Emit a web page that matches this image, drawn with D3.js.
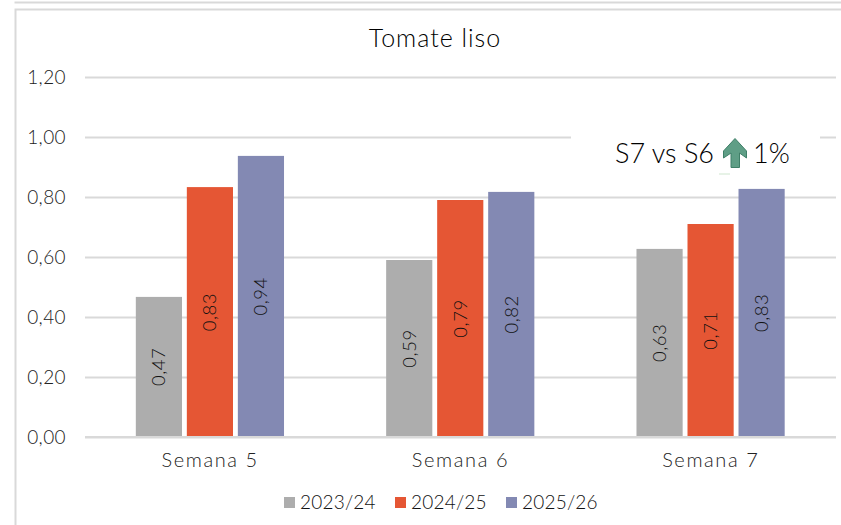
<!DOCTYPE html>
<meta charset="utf-8">
<style>
  body { margin: 0; background: #fff; }
  svg { display: block; font-family: "Lato", sans-serif; font-weight: 300; }
</style>
<script src="https://d3js.org/d3.v7.min.js"></script>
<div id="screen"></div>
<script>
  var categories = ["Semana 5", "Semana 6", "Semana 7"];
  var seasons = ["2023/24", "2024/25", "2025/26"];
  var colors = ["#adadad", "#e55634", "#8389b3"];
  var values2324 = [0.467, 0.59, 0.627];
  var values2425 = [0.833, 0.79, 0.71];
  var values2526 = [0.937, 0.817, 0.827];
  var labels2324 = ["0,47", "0,59", "0,63"];
  var labels2425 = ["0,83", "0,79", "0,71"];
  var labels2526 = ["0,94", "0,82", "0,83"];
  var yTicks = [0, 0.2, 0.4, 0.6, 0.8, 1.0, 1.2];

  var seriesValues = [values2324, values2425, values2526];
  var seriesLabels = [labels2324, labels2425, labels2526];

  var width = 841, height = 525;
  var margin = {top: 77, right: 5, bottom: 88, left: 85};

  var svg = d3.select("#screen").append("svg")
      .attr("width", width)
      .attr("height", height);

  // frame of the pasted slide
  svg.append("path")
      .attr("d", "M14.5,2.5H841M15.5,525V9.5H841")
      .attr("fill", "none")
      .attr("stroke", "#d9d9d9")
      .attr("stroke-width", 2);

  var x0 = d3.scaleBand().domain(categories).range([margin.left, width - margin.right]);
  var x1 = d3.scaleBand().domain(seasons).range([x0.bandwidth() * 0.203, x0.bandwidth() * 0.795]).paddingInner(0.095);
  var y = d3.scaleLinear().domain([0, 1.2]).range([height - margin.bottom, margin.top]);

  var fmt = function(d) { return d.toFixed(2).replace(".", ","); };

  // y axis with gridlines
  var yAxis = svg.append("g")
      .attr("transform", "translate(" + margin.left + ",0)")
      .call(d3.axisLeft(y).tickValues(yTicks).tickFormat(fmt).tickSize(-(width - margin.left - margin.right)).tickPadding(19));
  yAxis.select(".domain").remove();
  yAxis.attr("font-family", null).attr("font-size", null);
  yAxis.selectAll("line").attr("stroke", "#d9d9d9").attr("stroke-width", 2);
  yAxis.selectAll("text")
      .attr("fill", "#222")
      .style("font-size", "19px")
      .style("letter-spacing", "0.4px");

  // white box behind the note hides part of the 1,00 line
  svg.append("rect")
      .attr("x", 571).attr("y", 128).attr("width", 249).attr("height", 45)
      .attr("fill", "#fff");

  // bars
  var groups = svg.selectAll(".group")
      .data(categories)
      .join("g")
      .attr("class", "group")
      .attr("transform", function(d) { return "translate(" + x0(d) + ",0)"; });

  seasons.forEach(function(s, i) {
    groups.append("rect")
        .attr("x", x1(s))
        .attr("width", x1.bandwidth())
        .attr("y", function(d, j) { return y(seriesValues[i][j]); })
        .attr("height", function(d, j) { return y(0) - y(seriesValues[i][j]); })
        .attr("fill", colors[i]);

    groups.append("text")
        .attr("transform", function(d, j) {
          return "translate(" + (x1(s) + x1.bandwidth() / 2) + "," + (y(seriesValues[i][j] / 2)) + ") rotate(-90)";
        })
        .attr("text-anchor", "middle")
        .attr("dy", "0.35em")
        .attr("fill", "#111")
        .style("font-size", "18.5px")
        .style("letter-spacing", "0.5px")
        .text(function(d, j) { return seriesLabels[i][j]; });
  });

  // x axis
  svg.append("line")
      .attr("x1", margin.left).attr("x2", width - margin.right)
      .attr("y1", y(0)).attr("y2", y(0))
      .attr("stroke", "#d9d9d9").attr("stroke-width", 2);

  svg.selectAll(".cat")
      .data(categories)
      .join("text")
      .attr("class", "cat")
      .attr("x", function(d) { return x0(d) + x0.bandwidth() / 2; })
      .attr("y", 467)
      .attr("text-anchor", "middle")
      .attr("fill", "#222")
      .style("font-size", "20px")
      .style("letter-spacing", "1.6px")
      .text(function(d) { return d; });

  // title
  svg.append("text")
      .attr("x", 435).attr("y", 47)
      .attr("text-anchor", "middle")
      .attr("fill", "#000")
      .style("font-size", "25px")
      .style("letter-spacing", "1px")
      .text("Tomate liso");

  // legend
  var legendX = d3.scalePoint().domain(seasons).range([284, 506]);
  var legend = svg.selectAll(".leg")
      .data(seasons)
      .join("g")
      .attr("class", "leg")
      .attr("transform", function(d) { return "translate(" + legendX(d) + ",0)"; });
  legend.append("rect")
      .attr("y", 497).attr("width", 11).attr("height", 11)
      .attr("fill", function(d, i) { return colors[i]; });
  legend.append("text")
      .attr("x", 16).attr("y", 509)
      .attr("fill", "#111")
      .style("font-size", "19px")
      .style("letter-spacing", "0.2px")
      .text(function(d) { return d; });

  // note with the arrow
  svg.append("text")
      .attr("x", 615).attr("y", 163)
      .attr("fill", "#000")
      .style("font-size", "27px")
      .text("S7 vs S6");
  svg.append("text")
      .attr("x", 753).attr("y", 163)
      .attr("fill", "#000")
      .style("font-size", "27px")
      .text("1%");
  svg.append("path")
      .attr("d", "M735,138.5L746.5,151V158L739.5,153V167.5H731V153L723.5,158V151Z")
      .attr("fill", "#5f9e86")
      .attr("stroke", "#3f7f68")
      .attr("stroke-width", 1);
  svg.append("line")
      .attr("x1", 719).attr("x2", 730).attr("y1", 174).attr("y2", 174)
      .attr("stroke", "#cfe6cf");
</script>
